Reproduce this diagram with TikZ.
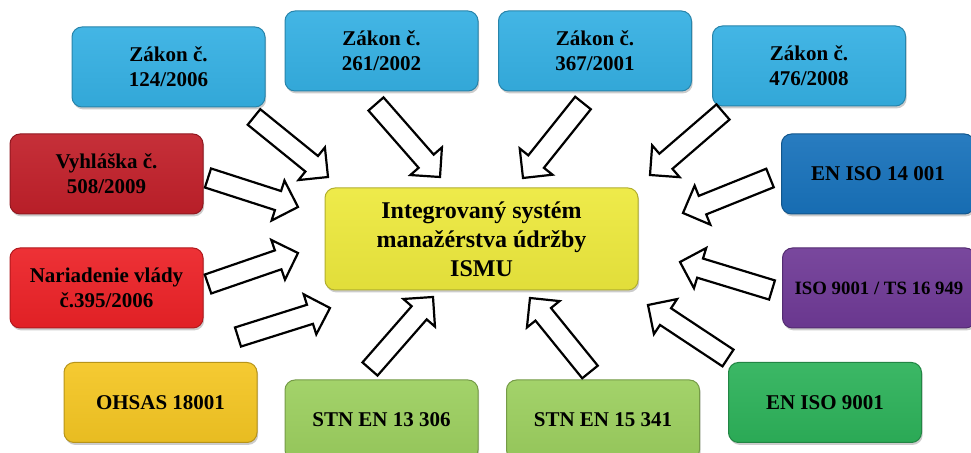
\documentclass[tikz,border=0pt]{standalone}
\usepackage{fontspec}
\setmainfont{Liberation Serif}
\usetikzlibrary{calc,shadows}
\definecolor{cblue}{HTML}{35B0E3}
\definecolor{cdred}{HTML}{C1202A}
\definecolor{cred}{HTML}{EC2227}
\definecolor{cyellow}{HTML}{EDE93D}
\definecolor{corange}{HTML}{F4C623}
\definecolor{clgreen}{HTML}{9CCF5F}
\definecolor{cgreen}{HTML}{2DB25A}
\definecolor{cdblue}{HTML}{1872BB}
\definecolor{cpurple}{HTML}{6F3A96}
\tikzset{
  box/.style={rounded corners=5pt, minimum width=96.5pt, minimum height=40pt,
    align=center, inner sep=2pt,
    font=\bfseries\fontsize{10.5}{12.5}\selectfont,
    top color=#1!93!white, bottom color=#1!95!black, draw=#1!75!black, line width=0.5pt,
    drop shadow={shadow xshift=0.6pt, shadow yshift=-1.2pt, opacity=0.4}},
  bigtext/.style={font=\bfseries\fontsize{12}{14.5}\selectfont},
  smalltext/.style={font=\bfseries\fontsize{9.4}{11}\selectfont},
  barrowline/.style={draw=black, fill=white, line width=1.1pt, line join=miter}
}
\newcommand{\blockarrow}[2]{%
  \coordinate (#1n) at ($(#2)!10.5pt!(#1)$);
  \draw[barrowline] ($(#1)!5pt!-90:(#2)$) -- ($(#1n)!5pt!90:(#1)$)
    -- ($(#1n)!10.5pt!90:(#1)$) -- (#2) -- ($(#1n)!10.5pt!-90:(#1)$)
    -- ($(#1n)!5pt!-90:(#1)$) -- ($(#1)!5pt!90:(#2)$) -- cycle;
}
\begin{document}
\begin{tikzpicture}[x=0.5pt,y=-0.5pt]
\useasboundingbox (0,0) rectangle (971,453);
\clip (0,0) rectangle (971,453);
\fill[white] (0,0) rectangle (971,453);

\node[box=cblue] (z124) at (168.5,67) {Zákon č.\\124/2006};
\node[box=cblue] (z261) at (381.5,51) {Zákon č.\\261/2002};
\node[box=cblue] (z367) at (595,51) {Zákon č.\\367/2001};
\node[box=cblue] (z476) at (809,66) {Zákon č.\\476/2008};
\node[box=cdred] (vyh) at (106.5,174) {Vyhláška č.\\508/2009};
\node[box=cdblue] (iso14) at (878,174) {EN ISO 14 001};
\node[box=cyellow, bigtext, minimum width=156.5pt, minimum height=51pt] (ismu) at (481.5,239) {Integrovaný systém\\manažérstva údržby\\ISMU};
\node[box=cred] (nar) at (106.5,288) {Nariadenie vlády\\č.395/2006};
\node[box=cpurple, smalltext] (ts) at (879,288) {ISO 9001 / TS 16 949};
\node[box=corange] (ohsas) at (160.5,402.5) {OHSAS 18001};
\node[box=clgreen] (stn13) at (381.5,420) {STN EN 13 306};
\node[box=clgreen] (stn15) at (603,420) {STN EN 15 341};
\node[box=cgreen] (en9001) at (825,402.5) {EN ISO 9001};

\coordinate (a1) at (254,117);  \coordinate (b1) at (328,177);
\coordinate (a2) at (376,104);  \coordinate (b2) at (440,177);
\coordinate (a3) at (583,103);  \coordinate (b3) at (523,178);
\coordinate (a4) at (723,112);  \coordinate (b4) at (650,175);
\coordinate (a5) at (770,178);  \coordinate (b5) at (683,213);
\coordinate (a6) at (208,178);  \coordinate (b6) at (298,207);
\coordinate (a7) at (208,284);  \coordinate (b7) at (298,253);
\coordinate (a8) at (238,337);  \coordinate (b8) at (330,308);
\coordinate (a9) at (370,369);  \coordinate (b9) at (433,297);
\coordinate (a10) at (590,372); \coordinate (b10) at (530,298);
\coordinate (a11) at (728,358); \coordinate (b11) at (648,305);
\coordinate (a12) at (772,290); \coordinate (b12) at (680,262);
\blockarrow{a1}{b1}
\blockarrow{a2}{b2}
\blockarrow{a3}{b3}
\blockarrow{a4}{b4}
\blockarrow{a5}{b5}
\blockarrow{a6}{b6}
\blockarrow{a7}{b7}
\blockarrow{a8}{b8}
\blockarrow{a9}{b9}
\blockarrow{a10}{b10}
\blockarrow{a11}{b11}
\blockarrow{a12}{b12}
\end{tikzpicture}
\end{document}
